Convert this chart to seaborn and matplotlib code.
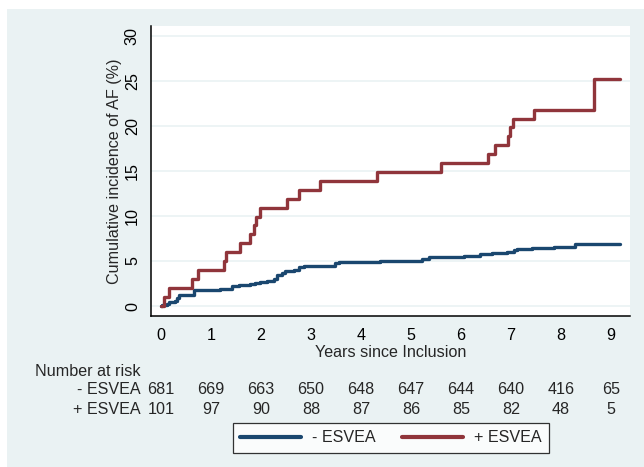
import numpy as np
import pandas as pd
import matplotlib
matplotlib.use("Agg")
import matplotlib.pyplot as plt
import matplotlib.transforms as mtransforms
from matplotlib.patches import Rectangle
from matplotlib.lines import Line2D
import seaborn as sns

# ---- data ----
neg_time = [0, 0.01, 0.11, 0.15, 0.28, 0.31, 0.35, 0.65, 1.18, 1.41, 1.55, 1.78, 1.88, 1.98,
            2.11, 2.25, 2.31, 2.41, 2.48, 2.65, 2.75, 2.85, 3.48, 3.55, 4.38, 5.21, 5.35,
            6.05, 6.38, 6.61, 6.91, 7.05, 7.11, 7.41, 7.85, 8.28, 9.18]
neg_inc = [0, 0.1, 0.2, 0.4, 0.6, 0.9, 1.2, 1.8, 1.95, 2.2, 2.3, 2.45, 2.6, 2.7,
           2.8, 3.05, 3.4, 3.7, 3.9, 4.05, 4.3, 4.5, 4.75, 4.85, 5.0, 5.2, 5.4,
           5.55, 5.75, 5.95, 6.05, 6.2, 6.35, 6.45, 6.6, 6.9, 6.9]
pos_time = [0, 0.05, 0.15, 0.61, 0.73, 1.25, 1.30, 1.57, 1.77, 1.85, 1.89, 1.97, 2.51,
            2.75, 3.18, 4.31, 5.60, 6.53, 6.68, 6.93, 6.98, 7.03, 7.46, 8.65, 9.17]
pos_inc = [0, 1.0, 2.0, 3.0, 4.0, 5.0, 6.0, 7.0, 8.0, 9.0, 9.9, 10.9, 11.9,
           12.9, 13.9, 14.9, 15.9, 16.9, 17.9, 18.9, 19.9, 20.8, 21.8, 25.2, 25.2]

groups = ["- ESVEA", "+ ESVEA"]
risk_years = [0, 1, 2, 3, 4, 5, 6, 7, 8, 9]
risk_neg = [681, 669, 663, 650, 648, 647, 644, 640, 416, 65]
risk_pos = [101, 97, 90, 88, 87, 86, 85, 82, 48, 5]
y_ticks = [0, 5, 10, 15, 20, 25, 30]

df = pd.concat([
    pd.DataFrame({"t": neg_time, "inc": neg_inc, "group": groups[0]}),
    pd.DataFrame({"t": pos_time, "inc": pos_inc, "group": groups[1]}),
], ignore_index=True)

# ---- style ----
sns.set_theme(style="white")
plt.rcParams["font.family"] = ["Liberation Sans", "DejaVu Sans"]
FS = 11.6
plt.rcParams["font.size"] = FS

bg = "#EAF2F3"
colors = {"- ESVEA": "#1A476F", "+ ESVEA": "#90353B"}

fig = plt.figure(figsize=(6.44, 4.67), dpi=100, facecolor="white")
fig.patches.append(Rectangle((7 / 644, 0), 1 - 7 / 644, 1 - 9 / 467,
                             transform=fig.transFigure, facecolor=bg,
                             edgecolor="none", zorder=-10))
ax = fig.add_axes([151 / 644, 1 - 316 / 467, (630 - 151) / 644, (316 - 26) / 467])
ax.set_facecolor("white")

sns.lineplot(data=df, x="t", y="inc", hue="group", hue_order=groups,
             palette=colors, estimator=None, sort=False, drawstyle="steps-post",
             linewidth=2.4, ax=ax, legend=False)

ax.set_xlim(-0.2, 9.38)
ax.set_ylim(-1.1, 31.1)
ax.set_xticks(risk_years)
ax.set_yticks(y_ticks)
ax.set_yticklabels([str(v) for v in y_ticks], rotation=90, va="center")
ax.grid(axis="y", color=bg, linewidth=1.2)
ax.grid(axis="x", visible=False)
ax.set_axisbelow(True)
for s in ["top", "right"]:
    ax.spines[s].set_visible(False)
for s in ["left", "bottom"]:
    ax.spines[s].set_color("black")
    ax.spines[s].set_linewidth(1.1)
ax.tick_params(axis="both", direction="out", length=6, width=1, color="#444444",
               labelsize=FS, labelcolor="black")
ax.tick_params(axis="x", pad=3)
ax.tick_params(axis="y", pad=2)
ax.set_xlabel("Years since Inclusion", fontsize=FS, labelpad=1)
ax.set_ylabel("Cumulative incidence of AF (%)", fontsize=FS, labelpad=2)

# ---- number at risk table ----
trans = mtransforms.blended_transform_factory(ax.transData, fig.transFigure)
fig.text(35 / 644, 1 - 371 / 467, "Number at risk", fontsize=FS, va="center", ha="left")
fig.text(141 / 644, 1 - 389 / 467, "- ESVEA", fontsize=FS, va="center", ha="right")
fig.text(141 / 644, 1 - 409 / 467, "+ ESVEA", fontsize=FS, va="center", ha="right")
for yr, n1, n2 in zip(risk_years, risk_neg, risk_pos):
    ax.text(yr, 1 - 389 / 467, str(n1), transform=trans, fontsize=FS, ha="center", va="center")
    ax.text(yr, 1 - 409 / 467, str(n2), transform=trans, fontsize=FS, ha="center", va="center")

# ---- legend ----
handles = [Line2D([], [], color=colors[g], linewidth=3) for g in groups]
leg = fig.legend(handles, groups, loc="center", bbox_to_anchor=(391 / 644, 1 - 438 / 467),
                 ncol=2, frameon=True, fancybox=False, fontsize=FS, handlelength=3.8,
                 columnspacing=1.6, handletextpad=0.7, borderpad=0.45)
leg.get_frame().set_edgecolor("black")
leg.get_frame().set_linewidth(0.9)
leg.get_frame().set_facecolor("white")

fig.savefig("out.png", dpi=100, facecolor="white")
